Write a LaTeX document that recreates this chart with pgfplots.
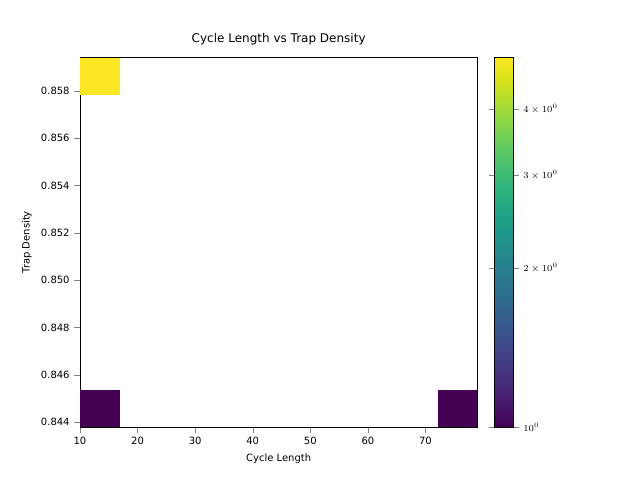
\documentclass[border=0pt]{standalone}
\usepackage{pgfplots}
\pgfplotsset{compat=1.18}
\usepackage{fontspec}
\setmainfont{DejaVu Sans}
\begin{document}
\begin{tikzpicture}
\begin{axis}[name=ax,
  width=298pt, height=277pt, scale only axis,
  xmin=10, xmax=79, ymin=0.8438, ymax=0.8594,
  xtick={10,20,...,70},
  ytick={0.844,0.846,...,0.858},
  yticklabel style={/pgf/number format/.cd,fixed,fixed zerofill,precision=3},
  /pgf/number format/assume math mode=true,
  tick label style={font=\fontsize{7.5}{9}\selectfont},
  label style={font=\fontsize{7.5}{9}\selectfont},
  title style={font=\fontsize{9}{11}\selectfont},
  xlabel={Cycle Length}, ylabel={Trap Density},
  title={Cycle Length vs Trap Density},
  tick align=outside, tick pos=left,
  colormap/viridis, point meta min=0, point meta max=1.6094,
  colorbar,
  colorbar style={width=14pt, xshift=4pt,
    ytick={0,0.6931,1.0986,1.3863},
    yticklabels={$10^0$,$2\times10^0$,$3\times10^0$,$4\times10^0$},
    yticklabel style={font=\fontsize{7.5}{9}\selectfont},
    tick align=outside},
]
\addplot[fill={rgb,255:red,253;green,231;blue,37}, draw=none] coordinates {(10,0.85784) (16.9,0.85784) (16.9,0.8594) (10,0.8594)} --cycle;
\addplot[fill={rgb,255:red,68;green,1;blue,84}, draw=none] coordinates {(10,0.8438) (16.9,0.8438) (16.9,0.84536) (10,0.84536)} --cycle;
\addplot[fill={rgb,255:red,68;green,1;blue,84}, draw=none] coordinates {(72.1,0.8438) (79,0.8438) (79,0.84536) (72.1,0.84536)} --cycle;
\end{axis}
\path[use as bounding box] ([shift={(-60pt,-39.75pt)}]ax.south west) rectangle ([shift={(420pt,320.25pt)}]ax.south west);
\end{tikzpicture}
\end{document}
